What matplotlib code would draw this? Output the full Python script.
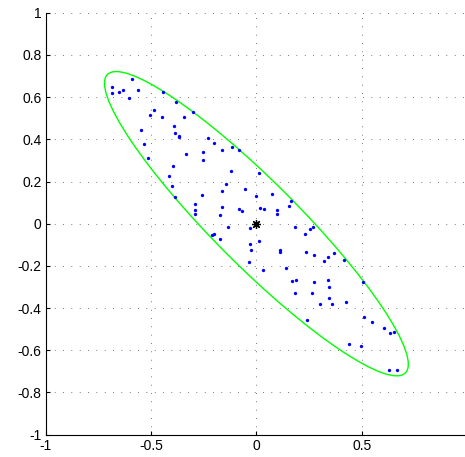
import matplotlib
matplotlib.use("Agg")
import matplotlib.pyplot as plt
from matplotlib.patches import Ellipse
import numpy as np

plt.rcParams["font.family"] = ["Liberation Sans", "DejaVu Sans"]
plt.rcParams["axes.unicode_minus"] = False

# sample points
xs = [-0.685, -0.686, -0.650, -0.631, -0.603, -0.590, -0.560, -0.505, -0.487, -0.546,
      -0.532, -0.514, -0.444, -0.383, -0.446, -0.346, -0.299, -0.389, -0.386, -0.369,
      -0.366, -0.228, -0.202, -0.334, -0.252, -0.253, -0.394, -0.413, -0.400, -0.161,
      -0.115, -0.081, -0.119, 0.013, -0.142, -0.161, -0.054, -0.384, -0.258, -0.001,
      0.076, -0.292, -0.161, -0.084, -0.066, 0.018, 0.037, 0.100, 0.100, -0.292,
      -0.292, -0.174, -0.133, -0.030, -0.201, -0.209, -0.172, -0.031, -0.027, 0.014,
      0.110, 0.114, 0.163, 0.155, 0.182, 0.256, 0.268, 0.231, 0.236, 0.274,
      0.370, 0.340, 0.323, 0.418, -0.036, 0.141, 0.032, 0.169, 0.190, 0.274,
      0.339, 0.344, 0.182, 0.263, 0.345, 0.300, 0.360, 0.424, 0.508, 0.241,
      0.511, 0.548, 0.605, 0.633, 0.655, 0.439, 0.497, 0.628, 0.669]
ys = [0.650, 0.618, 0.623, 0.634, 0.596, 0.684, 0.634, 0.515, 0.539, 0.445,
      0.376, 0.310, 0.623, 0.575, 0.504, 0.504, 0.528, 0.462, 0.432, 0.416,
      0.409, 0.404, 0.384, 0.329, 0.342, 0.303, 0.275, 0.225, 0.181, 0.349,
      0.362, 0.349, 0.248, 0.239, 0.190, 0.156, 0.164, 0.128, 0.135, 0.130,
      0.139, 0.095, 0.081, 0.070, 0.062, 0.076, 0.068, 0.065, 0.047, 0.064,
      0.046, 0.041, -0.016, -0.020, -0.050, -0.052, -0.074, -0.098, -0.125, -0.083,
      -0.133, -0.126, 0.109, 0.082, -0.016, -0.027, -0.017, -0.051, -0.133, -0.148,
      -0.141, -0.156, -0.177, -0.172, -0.182, -0.209, -0.221, -0.272, -0.268, -0.275,
      -0.268, -0.299, -0.330, -0.330, -0.351, -0.382, -0.382, -0.373, -0.278, -0.456,
      -0.444, -0.467, -0.493, -0.518, -0.512, -0.572, -0.580, -0.693, -0.693]

# centre and bounding ellipse (semi-axes, orientation in degrees)
center = (0.0, 0.0)
semi_major = 1.0
semi_minor = 0.2
angle = -45.0

xticks = [-1, -0.5, 0, 0.5]
yticks = [-1, -0.8, -0.6, -0.4, -0.2, 0, 0.2, 0.4, 0.6, 0.8, 1]

fig = plt.figure(figsize=(4.65, 4.57), dpi=100)
ax = fig.add_axes([0.0983, 0.0488, 0.9062, 0.9234])

ax.plot(xs, ys, "o", color="#0000ff", ms=2.4, mew=0, zorder=3)
ax.plot(*center, marker=(8, 2, 0), color="k", ms=6.5, mew=0.9, zorder=4)
ax.add_patch(Ellipse(center, 2 * semi_major, 2 * semi_minor, angle=angle,
                     fill=False, edgecolor="#00ff00", lw=1.0, zorder=2))

ax.set_xlim(-1, 1)
ax.set_ylim(-1, 1)
ax.set_xticks(xticks)
ax.set_xticklabels(["%g" % t for t in xticks])
ax.set_yticks(yticks)
ax.set_yticklabels(["%g" % t for t in yticks])
ax.grid(True, color="k", lw=0.5, linestyle=(0, (1, 11)))
# grid line at x = 1 (no tick label there)
ax.axvline(1, color="k", lw=0.5, linestyle=(0, (1, 11)), zorder=0)
ax.set_axisbelow(True)
ax.tick_params(direction="in", length=3, width=0.8, labelsize=10, pad=3,
               top=False, right=False)
ax.spines["top"].set_visible(False)
ax.spines["right"].set_visible(False)
for s in ("left", "bottom"):
    ax.spines[s].set_linewidth(0.8)

fig.savefig("out.png", dpi=100)
